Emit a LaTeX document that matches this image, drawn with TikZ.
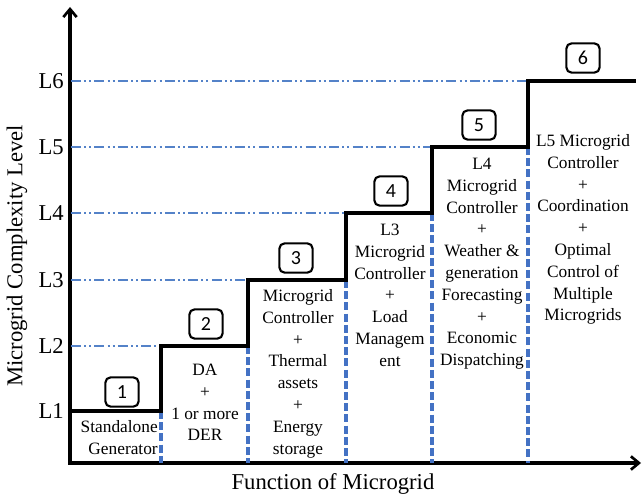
\documentclass[tikz,border=0pt]{standalone}
\usepackage{fontspec}
\setmainfont{Liberation Serif}
\newfontfamily\numfont{Carlito}
\usetikzlibrary{arrows.meta}
\definecolor{gridblue}{RGB}{84,130,200}
\definecolor{dashblue}{RGB}{68,114,196}
\newcommand{\coltab}[2][c]{\begin{tabular}{@{}#1@{}}#2\end{tabular}}
\begin{document}
\begin{tikzpicture}[x=0.75pt,y=-0.75pt,
  axis/.style={line width=2.3pt,line join=miter},
  tip/.tip={Straight Barb[length=6pt,width=10pt,line width=2pt]},
  stepline/.style={line width=2.4pt,line join=miter},
  levelgrid/.style={gridblue,line width=0.8pt,dash pattern=on 7.5pt off 2.3pt on 1.5pt off 2.3pt on 1.5pt off 2.5pt},
  coldiv/.style={dashblue,line width=2.4pt,dash pattern=on 6pt off 2.4pt},
  numbox/.style={draw,line width=1.6pt,rounded corners=4pt,minimum width=25pt,minimum height=22pt,inner sep=0pt,font=\numfont\fontsize{15}{15}\selectfont},
  levellabel/.style={anchor=east,inner sep=0pt,font=\fontsize{17}{17}\selectfont},
  axislabel/.style={inner sep=0pt,font=\fontsize{17}{17}\selectfont},
  coltext/.style={anchor=north,inner sep=0pt,font=\rmfamily\fontsize{13}{16.35}\selectfont}]
\useasboundingbox (0,0) rectangle (644,496);

% axes
\coordinate (O) at (70,463);
\coordinate (ytop) at (70,7);
\coordinate (xend) at (641,463);
\draw[axis,tip-tip] (ytop) -- (O) -- (xend);

% step corners
\coordinate (s1) at (70,411);
\coordinate (s2) at (161,411);
\coordinate (s3) at (161,346);
\coordinate (s4) at (248,346);
\coordinate (s5) at (248,280);
\coordinate (s6) at (346,280);
\coordinate (s7) at (346,213);
\coordinate (s8) at (432,213);
\coordinate (s9) at (432,147);
\coordinate (s10) at (528,147);
\coordinate (s11) at (528,81);
\coordinate (s12) at (636,81);

% level grid starts
\coordinate (g2) at (71,346);
\coordinate (g3) at (71,280);
\coordinate (g4) at (71,213);
\coordinate (g5) at (71,147);
\coordinate (g6) at (71,81);
\draw[levelgrid] (g2) -- (s3);
\draw[levelgrid] (g3) -- (s5);
\draw[levelgrid] (g4) -- (s7);
\draw[levelgrid] (g5) -- (s9);
\draw[levelgrid] (g6) -- (s11);

% column dividers
\draw[coldiv] (s2) -- (s2 |- O);
\draw[coldiv] (s4) -- (s4 |- O);
\draw[coldiv] (s6) -- (s6 |- O);
\draw[coldiv] (s8) -- (s8 |- O);
\draw[coldiv] (s10) -- (s10 |- O);

% step line
\draw[stepline] (s1) -- (s2) -- (s3) -- (s4) -- (s5) -- (s6) -- (s7) -- (s8) -- (s9) -- (s10) -- (s11) -- (s12);

% level labels
\node[levellabel] (l1) at (64,411) {L1};
\node[levellabel] (l2) at (64,346) {L2};
\node[levellabel] (l3) at (64,280) {L3};
\node[levellabel] (l4) at (64,213) {L4};
\node[levellabel] (l5) at (64,147) {L5};
\node[levellabel] (l6) at (64,81) {L6};

% axis labels
\node[axislabel,rotate=90] (ylab) at (17,256) {Microgrid Complexity Level};
\node[axislabel] (xlab) at (333,484) {Function of Microgrid};

% column texts
\node[coltext,anchor=north east] (c1) at (158,417) {\coltab[r]{Standalone\\Generator}};
\node[coltext] (c2) at (205,360) {\coltab{DA\\+\\1 or more\\DER}};
\node[coltext] (c3) at (298,286) {\coltab{Microgrid\\Controller\\+\\Thermal\\assets\\+\\Energy\\storage}};
\node[coltext] (c4) at (390,220) {\coltab{L3\\Microgrid\\Controller\\+\\Load\\Managem\\ent}};
\node[coltext] (c5) at (482,154) {\coltab{L4\\Microgrid\\Controller\\+\\Weather \&\\generation\\Forecasting\\+\\Economic\\Dispatching}};
\node[coltext] (c6) at (583,131) {\coltab{L5 Microgrid\\Controller\\+\\Coordination\\+\\Optimal\\Control of\\Multiple\\Microgrids}};

% number boxes
\node[numbox] (n1) at (122,392) {1};
\node[numbox] (n2) at (206,324) {2};
\node[numbox] (n3) at (296,258) {3};
\node[numbox] (n4) at (391,191) {4};
\node[numbox] (n5) at (479,125) {5};
\node[numbox] (n6) at (583,58) {6};
\end{tikzpicture}
\end{document}
